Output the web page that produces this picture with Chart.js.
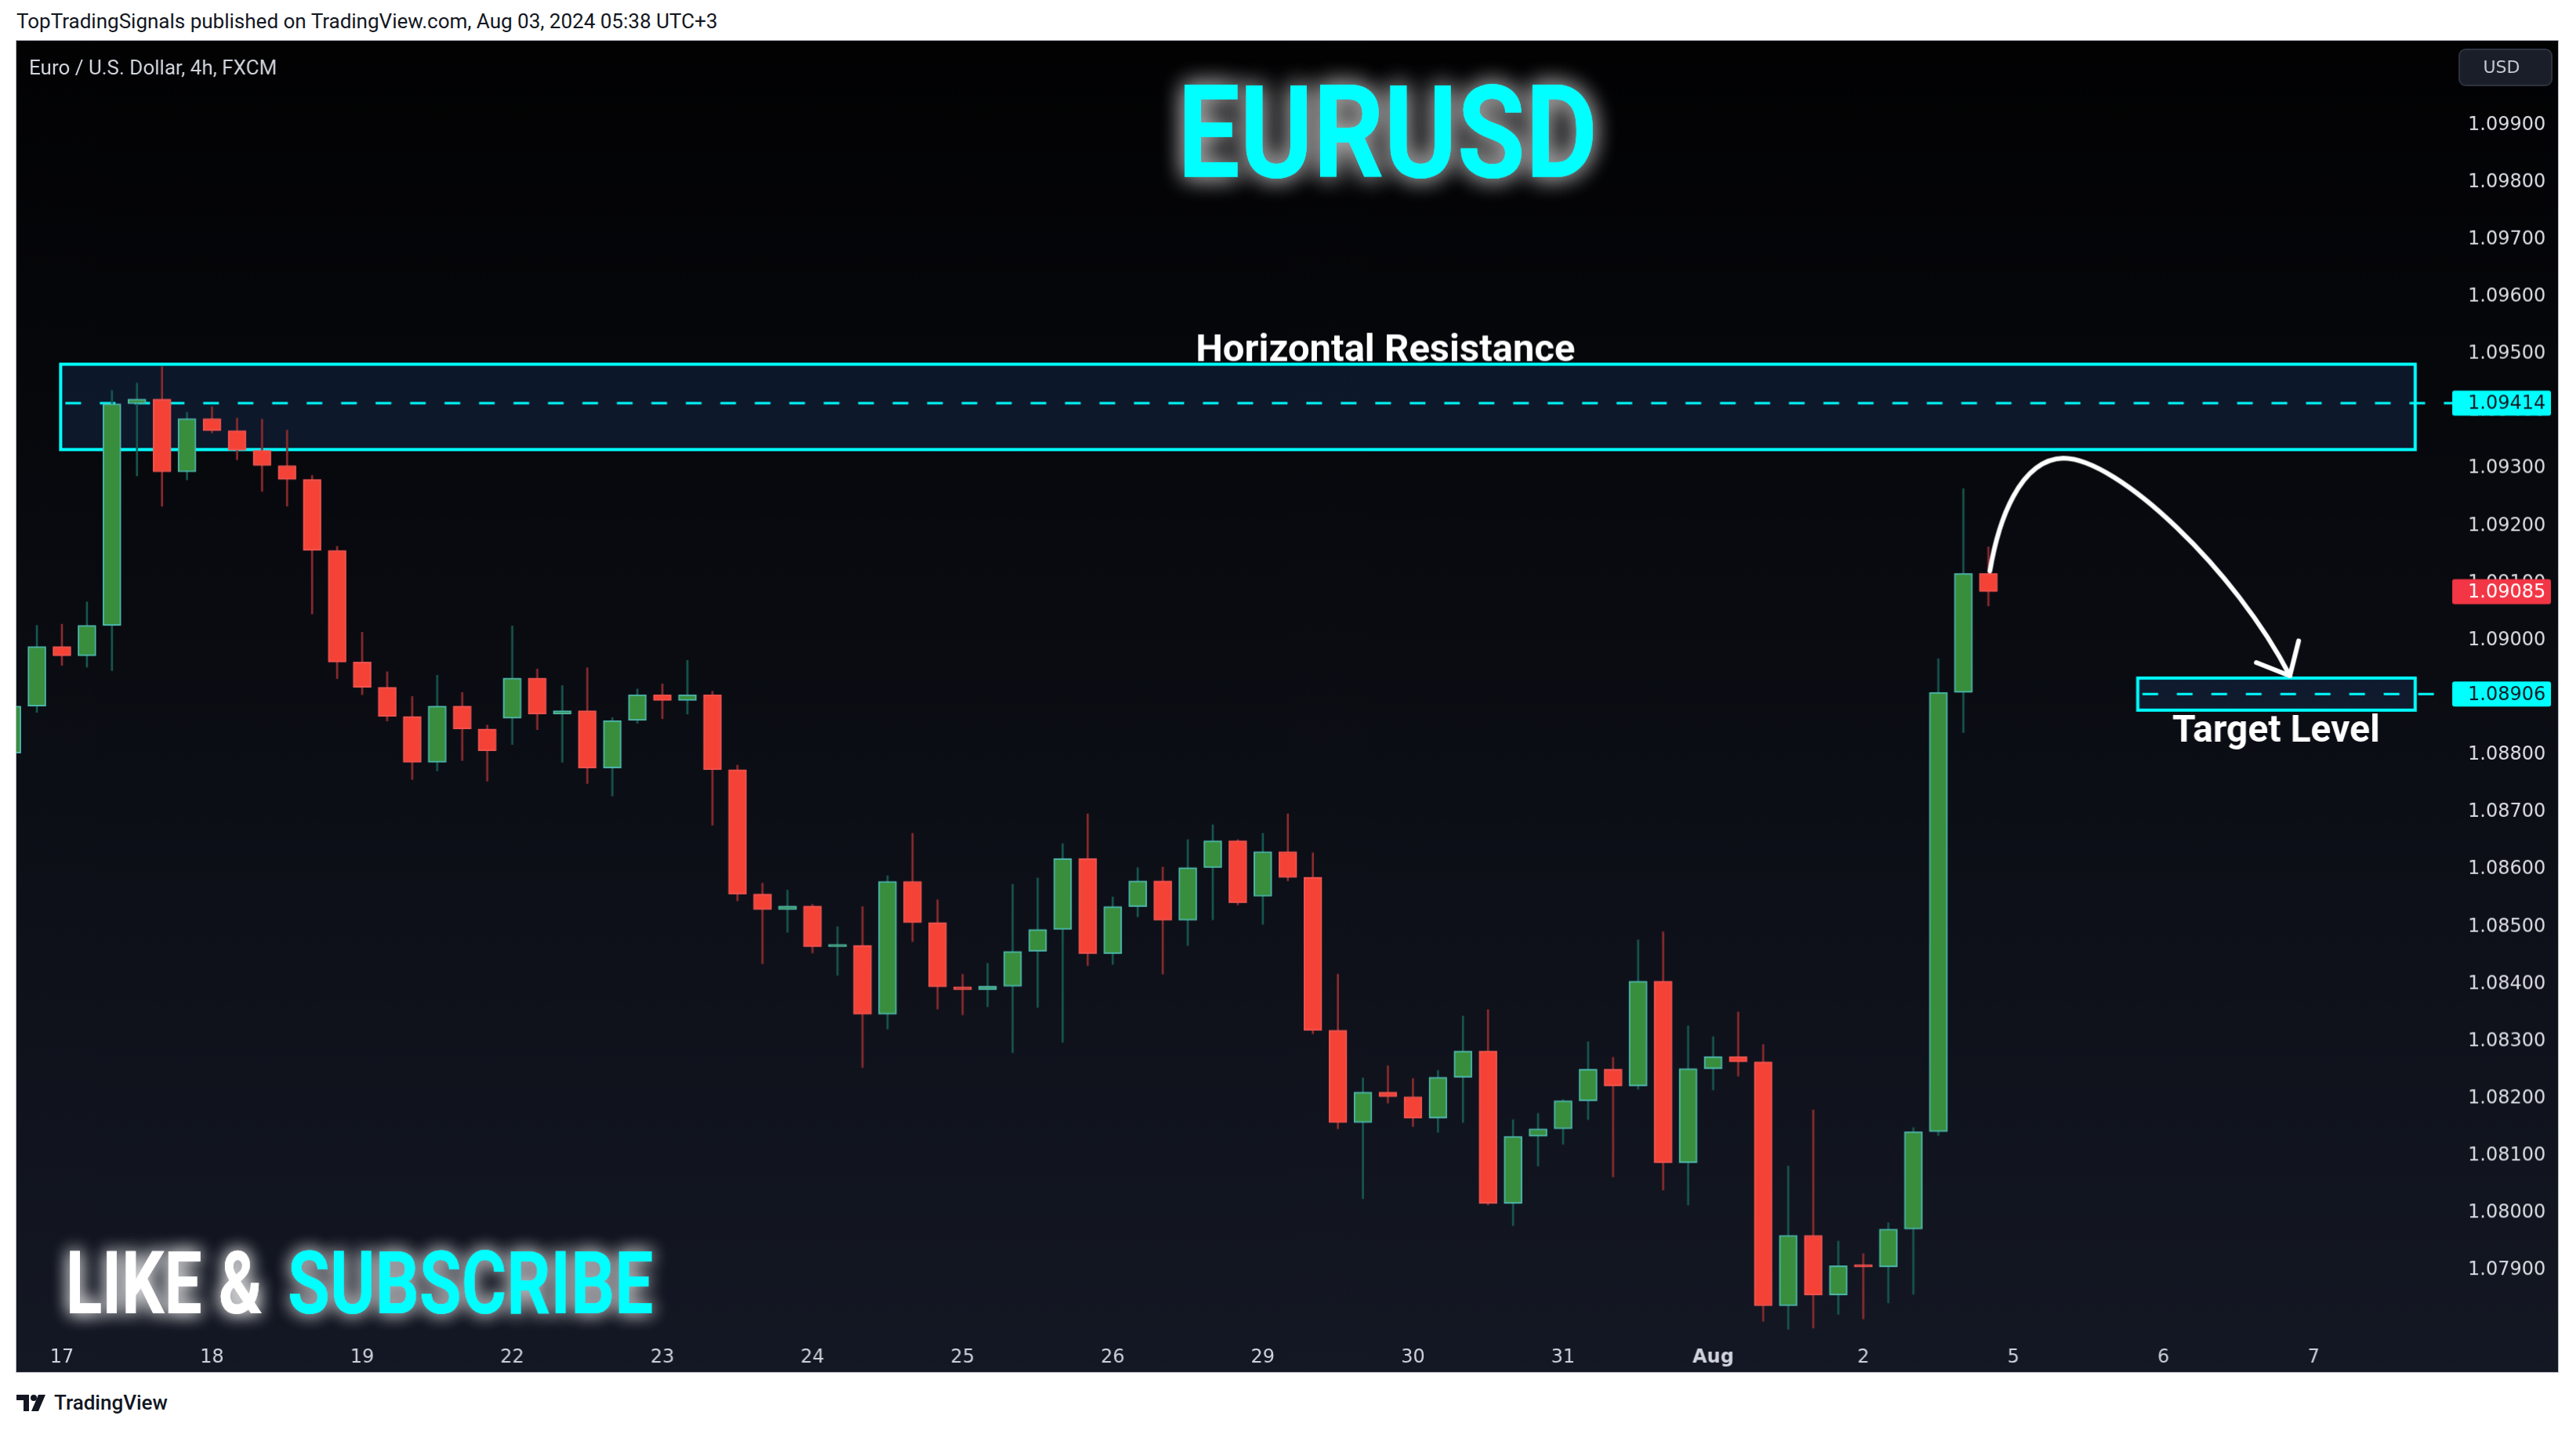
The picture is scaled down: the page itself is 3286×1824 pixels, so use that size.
<!DOCTYPE html>
<html>
<head>
<meta charset="utf-8">
<title>EURUSD 4h</title>
<script src="https://cdn.jsdelivr.net/npm/chart.js@4.4.1/dist/chart.umd.min.js"></script>
<style>
  html, body { margin: 0; padding: 0; background: #ffffff; }
  body { width: 3286px; height: 1824px; position: relative; overflow: hidden; font-family: Roboto, "Liberation Sans", sans-serif; }
  #header { position: absolute; left: 21px; top: 12px; font-size: 26px; color: #131722; white-space: nowrap; }
  #chart { position: absolute; left: 20px; top: 51px; border: 1px solid #b2b5be; }
  #footer { position: absolute; left: 21px; top: 1774px; display: flex; align-items: center; gap: 10px; font-size: 26px; font-weight: 500; color: #131722; }
</style>
</head>
<body>
<div id="header">TopTradingSignals published on TradingView.com, Aug 03, 2024 05:38 UTC+3</div>
<canvas id="chart" width="3244" height="1700"></canvas>
<div id="footer">
  <svg width="38" height="22" viewBox="0 0 38 22"><rect x="0" y="1" width="16" height="7" fill="#131722"/><rect x="9" y="1" width="7" height="21" fill="#131722"/><circle cx="22" cy="5" r="4" fill="#131722"/><polygon points="28,1 37,1 28,22 19,22" fill="#131722"/></svg>
  <span>TradingView</span>
</div>
<script>
// 4h candles, bar index 0 = Jul 17 00:00 (UTC+3), first bar is index -2
var firstBar = -2;
var opens = [1.08803, 1.08885, 1.08989, 1.08973, 1.09026, 1.09413, 1.09421, 1.09294, 1.09387, 1.09366,
  1.09332, 1.09305, 1.09281, 1.09157, 1.08962, 1.08918, 1.08867, 1.08787, 1.08885, 1.08845,
  1.08864, 1.08934, 1.08871, 1.08877, 1.08777, 1.08860, 1.08905, 1.08895, 1.08905, 1.08774,
  1.08557, 1.08530, 1.08536, 1.08465, 1.08467, 1.08347, 1.08579, 1.08507, 1.08395, 1.08390,
  1.08396, 1.08457, 1.08495, 1.08619, 1.08453, 1.08535, 1.08580, 1.08511, 1.08603, 1.08650,
  1.08553, 1.08631, 1.08586, 1.08319, 1.08158, 1.08211, 1.08203, 1.08166, 1.08237, 1.08283,
  1.08017, 1.08134, 1.08147, 1.08196, 1.08251, 1.08222, 1.08405, 1.08088, 1.08252, 1.08273,
  1.08264, 1.07838, 1.07961, 1.07857, 1.07910, 1.07906, 1.07972, 1.08142, 1.08909, 1.09117];
var highs = [1.08895, 1.09026, 1.09028, 1.09067, 1.09436, 1.09449, 1.09478, 1.09398, 1.09408, 1.09388,
  1.09386, 1.09367, 1.09288, 1.09164, 1.09014, 1.08945, 1.08902, 1.08939, 1.08909, 1.08852,
  1.09025, 1.08950, 1.08921, 1.08952, 1.08865, 1.08915, 1.08924, 1.08965, 1.08911, 1.08782,
  1.08576, 1.08564, 1.08539, 1.08500, 1.08535, 1.08589, 1.08663, 1.08547, 1.08417, 1.08436,
  1.08574, 1.08585, 1.08645, 1.08697, 1.08552, 1.08603, 1.08604, 1.08652, 1.08678, 1.08652,
  1.08663, 1.08697, 1.08629, 1.08417, 1.08236, 1.08257, 1.08235, 1.08249, 1.08344, 1.08355,
  1.08163, 1.08174, 1.08198, 1.08299, 1.08272, 1.08477, 1.08491, 1.08327, 1.08308, 1.08351,
  1.08294, 1.08082, 1.08180, 1.07951, 1.07929, 1.07983, 1.08149, 1.08968, 1.09265, 1.09163];
var lows = [1.08790, 1.08874, 1.08956, 1.08953, 1.08947, 1.09287, 1.09234, 1.09280, 1.09362, 1.09315,
  1.09260, 1.09234, 1.09046, 1.08933, 1.08905, 1.08859, 1.08757, 1.08772, 1.08790, 1.08754,
  1.08818, 1.08844, 1.08787, 1.08750, 1.08728, 1.08855, 1.08863, 1.08871, 1.08677, 1.08545,
  1.08435, 1.08490, 1.08454, 1.08415, 1.08254, 1.08321, 1.08474, 1.08356, 1.08346, 1.08360,
  1.08280, 1.08359, 1.08298, 1.08432, 1.08434, 1.08517, 1.08417, 1.08467, 1.08512, 1.08538,
  1.08504, 1.08580, 1.08313, 1.08147, 1.08025, 1.08192, 1.08151, 1.08141, 1.08158, 1.08014,
  1.07978, 1.08082, 1.08120, 1.08163, 1.08063, 1.08216, 1.08040, 1.08014, 1.08215, 1.08239,
  1.07811, 1.07797, 1.07799, 1.07823, 1.07815, 1.07843, 1.07858, 1.08135, 1.08839, 1.09060];
var closes = [1.08885, 1.08989, 1.08973, 1.09026, 1.09413, 1.09421, 1.09294, 1.09387, 1.09366, 1.09332,
  1.09305, 1.09281, 1.09157, 1.08962, 1.08918, 1.08867, 1.08787, 1.08885, 1.08845, 1.08807,
  1.08934, 1.08871, 1.08877, 1.08777, 1.08860, 1.08905, 1.08895, 1.08905, 1.08774, 1.08557,
  1.08530, 1.08536, 1.08465, 1.08467, 1.08347, 1.08579, 1.08507, 1.08395, 1.08390, 1.08396,
  1.08457, 1.08495, 1.08619, 1.08453, 1.08535, 1.08580, 1.08511, 1.08603, 1.08650, 1.08542,
  1.08631, 1.08586, 1.08319, 1.08158, 1.08211, 1.08203, 1.08166, 1.08237, 1.08283, 1.08017,
  1.08134, 1.08147, 1.08196, 1.08251, 1.08222, 1.08405, 1.08088, 1.08252, 1.08273, 1.08264,
  1.07838, 1.07961, 1.07857, 1.07908, 1.07906, 1.07972, 1.08142, 1.08909, 1.09117, 1.09085];

var dayTickIndex = [0, 6, 12, 18, 24, 30, 36, 42, 48, 54, 60, 66, 72, 78, 84, 90];
var dayTickLabels = ['17', '18', '19', '22', '23', '24', '25', '26', '29', '30', '31', 'Aug', '2', '5', '6', '7'];
var priceTicks = [1.079, 1.080, 1.081, 1.082, 1.083, 1.084, 1.085, 1.086, 1.087, 1.088, 1.089,
  1.090, 1.091, 1.092, 1.093, 1.094, 1.095, 1.096, 1.097, 1.098, 1.099];

var resistanceZone = [1.09333, 1.09482];
var resistanceLevel = 1.09414;
var targetZone = [1.08878, 1.08934];
var targetLevel = 1.08906;
var lastPrice = 1.09085;
// curved arrow, [bar index, price] pairs: start, c1, c2, peak, c1, c2, tip
var arrowPath = [[77.06, 1.09121], [77.39, 1.09207], [78.24, 1.09316], [80.0, 1.09318],
  [82.18, 1.09318], [86.9, 1.09121], [89.05, 1.08938]];

var up = opens.map(function (o, i) { return closes[i] >= o; });
var bodies = opens.map(function (o, i) { return { x: firstBar + i, y: [o, closes[i]] }; });
var wicks = opens.map(function (o, i) { return { x: firstBar + i, y: [lows[i], highs[i]] }; });

var CYAN = '#00ffff';

function glowText(ctx, text, x, y, color, glow, blur, maxW) {
  ctx.save();
  ctx.fillStyle = color;
  ctx.shadowColor = glow;
  ctx.shadowBlur = blur;
  for (var n = 0; n < 2; n++) {
    if (maxW) ctx.fillText(text, x, y, maxW); else ctx.fillText(text, x, y);
  }
  ctx.restore();
}

function priceTag(ctx, chart, price, bg, fg) {
  var y = chart.scales.y.getPixelForValue(price);
  var left = chart.chartArea.right + 7;
  ctx.save();
  ctx.fillStyle = bg;
  ctx.beginPath();
  ctx.roundRect(left, y - 16, 126, 32, 3);
  ctx.fill();
  ctx.fillStyle = fg;
  ctx.font = '24px "DejaVu Sans"';
  ctx.textBaseline = 'middle';
  ctx.fillText(price.toFixed(5), chart.chartArea.right + 27, y + 1);
  ctx.restore();
}

var panelBackground = {
  id: 'panelBackground',
  beforeDraw: function (chart) {
    var ctx = chart.ctx;
    var g = ctx.createLinearGradient(0, 0, 0, chart.height);
    g.addColorStop(0, '#020203');
    g.addColorStop(1, '#141824');
    ctx.save();
    ctx.fillStyle = g;
    ctx.fillRect(0, 0, chart.width, chart.height);
    ctx.restore();
  }
};

var drawings = {
  id: 'drawings',
  beforeDatasetsDraw: function (chart) {
    var ctx = chart.ctx, xs = chart.scales.x, ys = chart.scales.y, area = chart.chartArea;
    var tagLeft = area.right + 7;
    ctx.save();
    // resistance zone
    var rx0 = xs.getPixelForValue(-0.05), rx1 = xs.getPixelForValue(94.06);
    var ry0 = ys.getPixelForValue(resistanceZone[1]), ry1 = ys.getPixelForValue(resistanceZone[0]);
    ctx.fillStyle = 'rgba(22,44,80,0.45)';
    ctx.fillRect(rx0, ry0, rx1 - rx0, ry1 - ry0);
    ctx.strokeStyle = CYAN;
    ctx.lineWidth = 4;
    ctx.strokeRect(rx0, ry0, rx1 - rx0, ry1 - ry0);
    // target zone
    var tx0 = xs.getPixelForValue(82.97);
    var ty0 = ys.getPixelForValue(targetZone[1]), ty1 = ys.getPixelForValue(targetZone[0]);
    ctx.fillStyle = 'rgba(22,44,80,0.45)';
    ctx.fillRect(tx0, ty0, rx1 - tx0, ty1 - ty0);
    ctx.strokeRect(tx0, ty0, rx1 - tx0, ty1 - ty0);
    // dashed levels
    ctx.setLineDash([20, 24]);
    ctx.lineWidth = 3;
    var ly = ys.getPixelForValue(resistanceLevel);
    ctx.beginPath();
    ctx.moveTo(rx0 + 6, ly);
    ctx.lineTo(tagLeft, ly);
    ctx.stroke();
    var ty = ys.getPixelForValue(targetLevel);
    ctx.beginPath();
    ctx.moveTo(tx0 + 6, ty);
    ctx.lineTo(tagLeft, ty);
    ctx.stroke();
    ctx.restore();
  },
  afterDatasetsDraw: function (chart) {
    var ctx = chart.ctx, xs = chart.scales.x, ys = chart.scales.y;
    var pts = arrowPath.map(function (p) { return [xs.getPixelForValue(p[0]), ys.getPixelForValue(p[1])]; });
    ctx.save();
    ctx.strokeStyle = '#ffffff';
    ctx.lineWidth = 6;
    ctx.lineCap = 'round';
    ctx.lineJoin = 'round';
    ctx.beginPath();
    ctx.moveTo(pts[0][0], pts[0][1]);
    ctx.bezierCurveTo(pts[1][0], pts[1][1], pts[2][0], pts[2][1], pts[3][0], pts[3][1]);
    ctx.bezierCurveTo(pts[4][0], pts[4][1], pts[5][0], pts[5][1], pts[6][0], pts[6][1]);
    ctx.stroke();
    var tip = pts[6], c = pts[5];
    var ang = Math.atan2(tip[1] - c[1], tip[0] - c[0]);
    var wing = 46, spread = 0.72;
    ctx.beginPath();
    ctx.moveTo(tip[0] - wing * Math.cos(ang - spread), tip[1] - wing * Math.sin(ang - spread));
    ctx.lineTo(tip[0], tip[1]);
    ctx.lineTo(tip[0] - wing * Math.cos(ang + spread), tip[1] - wing * Math.sin(ang + spread));
    ctx.stroke();
    ctx.restore();

    // zone captions
    ctx.save();
    ctx.fillStyle = '#ffffff';
    ctx.textAlign = 'center';
    ctx.textBaseline = 'alphabetic';
    ctx.font = 'bold 49px Roboto';
    ctx.fillText('Horizontal Resistance', xs.getPixelForValue(52.9), ys.getPixelForValue(1.09487), 492);
    ctx.font = 'bold 48px Roboto';
    ctx.fillText('Target Level', xs.getPixelForValue(88.5), ys.getPixelForValue(1.08823), 268);
    ctx.restore();
  },
  afterDraw: function (chart) {
    var ctx = chart.ctx, area = chart.chartArea;
    priceTag(ctx, chart, resistanceLevel, CYAN, '#131722');
    priceTag(ctx, chart, lastPrice, '#f23645', '#ffffff');
    priceTag(ctx, chart, targetLevel, CYAN, '#131722');

    // currency button
    ctx.save();
    ctx.fillStyle = '#1a1e28';
    ctx.strokeStyle = '#2f3340';
    ctx.lineWidth = 2;
    ctx.beginPath();
    ctx.roundRect(area.right + 16, 11, 118, 46, 8);
    ctx.fill();
    ctx.stroke();
    ctx.fillStyle = '#c9ccd4';
    ctx.font = '22px "DejaVu Sans"';
    ctx.textAlign = 'center';
    ctx.textBaseline = 'middle';
    ctx.fillText('USD', area.right + 70, 35);
    ctx.restore();

    // symbol line
    ctx.save();
    ctx.fillStyle = '#d1d4dc';
    ctx.font = '26px Roboto';
    ctx.textBaseline = 'alphabetic';
    ctx.fillText('Euro / U.S. Dollar, 4h, FXCM', 16, 43);

    // big titles
    ctx.font = 'bold 165px Roboto';
    ctx.textAlign = 'center';
    glowText(ctx, 'EURUSD', 1750, 174, CYAN, 'rgba(255,255,255,0.55)', 30, 536);
    ctx.textAlign = 'left';
    ctx.font = 'bold 112px Roboto';
    glowText(ctx, 'LIKE &', 63, 1625, '#ffffff', 'rgba(255,255,255,0.75)', 22, 251);
    glowText(ctx, 'SUBSCRIBE', 346, 1625, CYAN, 'rgba(255,255,255,0.6)', 22, 467);
    ctx.restore();
  }
};

function noPad(s) { s.paddingTop = 0; s.paddingBottom = 0; s.paddingLeft = 0; s.paddingRight = 0; }

var ctx = document.getElementById('chart').getContext('2d');

var candleChart = new Chart(ctx, {
  type: 'bar',
  data: {
    datasets: [{
      label: 'wicks',
      data: wicks,
      backgroundColor: up.map(function (u) { return u ? '#17574f' : '#8c2b2e'; }),
      borderWidth: 0,
      barThickness: 2,
      grouped: false,
      order: 2
    }, {
      label: 'bodies',
      data: bodies,
      backgroundColor: up.map(function (u) { return u ? '#388e3c' : '#f44336'; }),
      borderColor: up.map(function (u) { return u ? '#4db6ac' : '#ef5350'; }),
      borderWidth: 2,
      borderSkipped: false,
      barThickness: 23,
      minBarLength: 3,
      grouped: false,
      order: 1
    }]
  },
  options: {
    responsive: false,
    animation: false,
    devicePixelRatio: 1,
    events: [],
    layout: { padding: 0, autoPadding: false },
    plugins: { legend: { display: false }, tooltip: { enabled: false } },
    scales: {
      x: {
        type: 'linear',
        min: -1.816,
        max: 95.32,
        offset: false,
        grid: { display: false, drawTicks: false },
        border: { display: false },
        afterBuildTicks: function (s) { s.ticks = dayTickIndex.map(function (v) { return { value: v }; }); },
        afterFit: function (s) { s.height = 47; noPad(s); },
        ticks: {
          autoSkip: false,
          maxRotation: 0,
          padding: 14,
          color: '#d1d4dc',
          font: function (c) {
            return { family: 'DejaVu Sans', size: 24, weight: dayTickLabels[c.index] === 'Aug' ? 'bold' : 'normal' };
          },
          callback: function (v, i) { return dayTickLabels[i]; }
        }
      },
      y: {
        type: 'linear',
        position: 'right',
        min: 1.077867,
        max: 1.100467,
        grid: { display: false, drawTicks: false },
        border: { display: false },
        afterBuildTicks: function (s) { s.ticks = priceTicks.map(function (v) { return { value: v }; }); },
        afterFit: function (s) { s.width = 142; noPad(s); },
        ticks: {
          padding: 27,
          color: '#dcdee4',
          font: { family: 'DejaVu Sans', size: 24 },
          callback: function (v) { return Number(v).toFixed(5); }
        }
      }
    }
  },
  plugins: [panelBackground, drawings]
});
</script>
</body>
</html>
